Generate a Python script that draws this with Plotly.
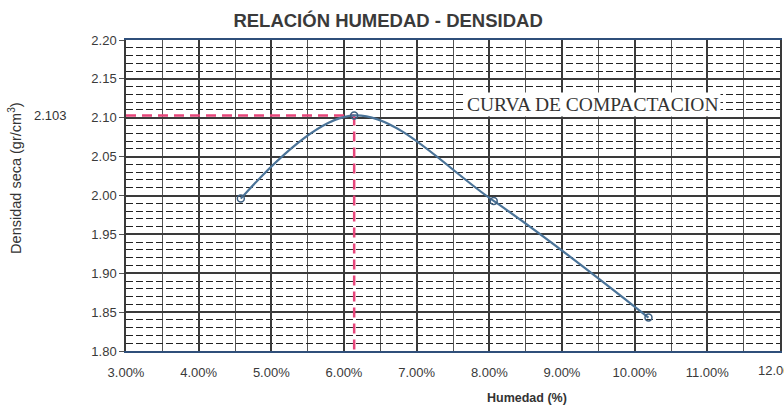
import plotly.graph_objects as go

# ensayo de compactacion: humedad (fraccion) vs densidad seca (gr/cm3)
humedad = [0.0458, 0.0614, 0.0806, 0.1019]
densidad = [1.996, 2.103, 1.993, 1.843]

# optimo contenido de humedad / maxima densidad seca
och = 0.0614
mds = 2.103

x_range = [0.03, 0.12]
y_range = [1.80, 2.20]

font_family = "Liberation Sans, Arial, sans-serif"
red = "#e6457a"

fig = go.Figure()

# lineas de referencia rojas (MDS / OCH)
fig.add_trace(go.Scatter(
    x=[x_range[0], och], y=[mds, mds],
    mode="lines",
    line=dict(color=red, width=2.5, dash="10px,6px"),
    showlegend=False, hoverinfo="skip",
))
fig.add_trace(go.Scatter(
    x=[och, och], y=[mds, y_range[0]],
    mode="lines",
    line=dict(color=red, width=2.5, dash="10px,6px"),
    showlegend=False, hoverinfo="skip",
))

# curva de compactacion
fig.add_trace(go.Scatter(
    x=humedad, y=densidad,
    mode="lines+markers",
    line=dict(color="#4a7398", width=2.2, shape="spline", smoothing=1.0),
    marker=dict(symbol="circle-open", size=7, color="#3d5f80",
                line=dict(width=1.5)),
    showlegend=False,
))

fig.update_layout(
    width=784,
    height=409,
    margin=dict(l=126, r=4, t=40, b=58),
    paper_bgcolor="white",
    plot_bgcolor="white",
    font=dict(family=font_family, size=13, color="#333333"),
    title=dict(
        text="<b>RELACIÓN HUMEDAD - DENSIDAD</b>",
        x=0.495, xanchor="center", y=0.95, yanchor="middle",
        font=dict(size=18.5, color="#3a3a3a"),
        automargin=False,
    ),
    xaxis=dict(
        range=x_range,
        dtick=0.01,
        tick0=0.03,
        tickformat=".2%",
        showgrid=True,
        gridcolor="#3a3a3a",
        gridwidth=1.5,
        minor=dict(dtick=0.005, showgrid=True, gridcolor="#555555",
                   gridwidth=1),
        showline=True, linecolor="#2f4f7a", linewidth=1.5, mirror=True,
        ticks="", zeroline=False, automargin=False,
        ticklabelstandoff=9,
        tickfont=dict(size=13, color="#3a3a3a"),
    ),
    yaxis=dict(
        range=y_range,
        dtick=0.05,
        tickformat=".2f",
        showgrid=True,
        gridcolor="#3a3a3a",
        gridwidth=1.5,
        minor=dict(dtick=0.01, showgrid=True, gridcolor="#222222",
                   gridwidth=1.4, griddash="7px,3px"),
        showline=True, linecolor="#3a3a3a", linewidth=1.5, mirror=True,
        ticks="outside", ticklen=5, tickcolor="#555555",
        zeroline=False, automargin=False,
        tickfont=dict(size=13, color="#3a3a3a"),
    ),
)

# ultima etiqueta del eje x (recortada en el borde, como en el original)
fig.add_annotation(
    text=f"{x_range[1]:.2%}",
    xref="x", yref="paper",
    x=x_range[1], y=-0.064, xanchor="center", yanchor="middle",
    showarrow=False, font=dict(size=13, color="#3a3a3a"),
)
fig.add_annotation(
    text="<b>Humedad (%)</b>",
    xref="paper", yref="paper",
    x=0.613, y=-0.151, xanchor="center", yanchor="middle",
    showarrow=False, font=dict(size=12.5, color="#333333"),
)
fig.add_annotation(
    text="Densidad seca (gr/cm<sup>3</sup>)",
    xref="paper", yref="paper",
    x=-0.170, y=0.556, xanchor="center", yanchor="middle",
    textangle=-90, showarrow=False,
    font=dict(size=14.5, color="#333333"),
)
fig.add_annotation(
    text=f"{mds:.3f}",
    xref="paper", yref="y",
    x=-0.115, y=mds, xanchor="center", yanchor="middle",
    showarrow=False, font=dict(size=13, color="#333333"),
)
fig.add_annotation(
    text="CURVA DE COMPACTACION",
    xref="x", yref="y",
    x=0.0942, y=2.117, xanchor="center", yanchor="middle",
    showarrow=False, bgcolor="white",
    font=dict(family="Liberation Serif, Times New Roman, serif",
              size=19.5, color="#333333"),
)

fig.write_html(
    "out.html",
    config={"displayModeBar": False},
    post_script="document.body.style.margin='0';",
)
